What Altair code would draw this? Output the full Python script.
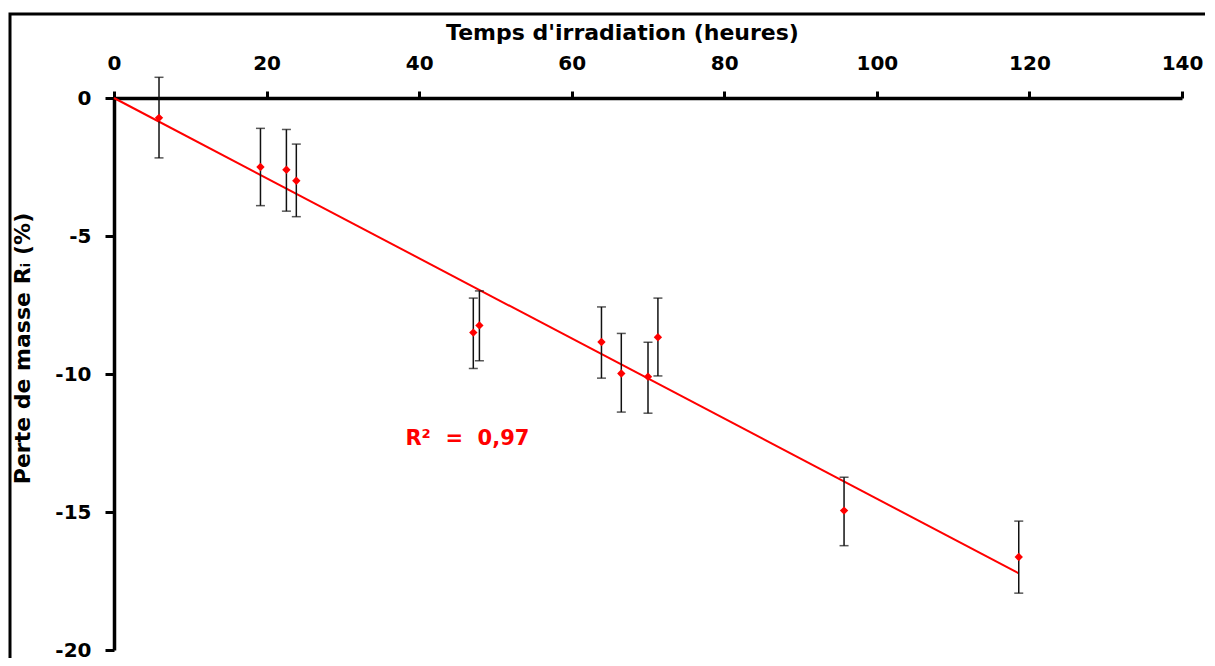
import altair as alt
import pandas as pd

# Data
temps = [5.9, 19.2, 22.6, 23.9, 47.1, 47.9, 63.9, 66.5, 70.0, 71.3, 95.7, 118.6]
perte = [-0.72, -2.50, -2.60, -3.00, -8.50, -8.24, -8.84, -9.98, -10.10, -8.67, -14.95, -16.63]
err_haut = [0.75, -1.10, -1.14, -1.67, -7.25, -6.99, -7.57, -8.53, -8.85, -7.25, -13.74, -15.33]
err_bas = [-2.17, -3.90, -4.10, -4.30, -9.80, -9.52, -10.15, -11.38, -11.42, -10.07, -16.22, -17.94]

fit_x = [0, 118.6]
fit_y = [0, -17.22]

r2_label = ["R²\u00a0\u00a0=\u00a0\u00a00,97"]
r2_x = [38.2]
r2_y = [-12.35]

x_ticks = [0, 20, 40, 60, 80, 100, 120, 140]
y_ticks = [0, -5, -10, -15, -20]

FONT = "DejaVu Sans"

df = pd.DataFrame({"t": temps, "p": perte, "hi": err_haut, "lo": err_bas})
df_fit = pd.DataFrame({"t": fit_x, "p": fit_y})
df_txt = pd.DataFrame({"t": r2_x, "p": r2_y, "label": r2_label})

xscale = alt.Scale(domain=[0, 140], nice=False, zero=False)
yscale = alt.Scale(domain=[-20, 0], nice=False, zero=False)

xaxis = alt.Axis(
    orient="top", values=x_ticks, format="d", grid=False, labelFlush=False,
    title="Temps d'irradiation (heures)",
    titleX=508, titleY=-59, titleAlign="center", titleBaseline="alphabetic",
    tickSize=7, labelPadding=18,
)
yaxis = alt.Axis(
    orient="left", values=y_ticks, grid=False, labelFlush=False,
    labelExpr="datum.value < 0 ? '-' + (-datum.value) : '0'",
    title="Perte de masse Rᵢ (%)",
    titleX=-85, titleY=250, titleAlign="center", titleAngle=-90, titleBaseline="alphabetic",
    tickSize=9, labelPadding=14,
)

frame = alt.Chart(pd.DataFrame({"a": [0]})).mark_rect(
    fill=None, stroke="black", strokeWidth=3
).encode(
    x=alt.value(-104), x2=alt.value(2000), y=alt.value(-84), y2=alt.value(2000)
)

fit = alt.Chart(df_fit).mark_line(color="#ff0000", strokeWidth=2).encode(
    x=alt.X("t:Q", scale=xscale, axis=xaxis),
    y=alt.Y("p:Q", scale=yscale, axis=yaxis),
)

bars = alt.Chart(df).mark_rule(color="#111111", strokeWidth=1.5).encode(
    x=alt.X("t:Q", scale=xscale),
    y=alt.Y("hi:Q", scale=yscale),
    y2="lo:Q",
)

caps_hi = alt.Chart(df).mark_tick(color="#111111", thickness=1.5, size=9, orient="horizontal").encode(
    x=alt.X("t:Q", scale=xscale),
    y=alt.Y("hi:Q", scale=yscale),
)
caps_lo = alt.Chart(df).mark_tick(color="#111111", thickness=1.5, size=9, orient="horizontal").encode(
    x=alt.X("t:Q", scale=xscale),
    y=alt.Y("lo:Q", scale=yscale),
)

pts = alt.Chart(df).mark_point(shape="diamond", filled=True, color="#ff0000", size=70, opacity=1).encode(
    x=alt.X("t:Q", scale=xscale),
    y=alt.Y("p:Q", scale=yscale),
)

txt = alt.Chart(df_txt).mark_text(
    color="#ff0000", font=FONT, fontWeight="bold", fontSize=21, align="left", baseline="middle"
).encode(
    x=alt.X("t:Q", scale=xscale),
    y=alt.Y("p:Q", scale=yscale),
    text="label:N",
)

chart = alt.layer(frame, fit, bars, caps_hi, caps_lo, pts, txt).properties(
    width=1068, height=552,
    autosize=alt.AutoSizeParams(type="none"),
    padding={"left": 106, "top": 90, "right": 23, "bottom": 8},
    background="white",
).configure_view(stroke=None).configure_axis(
    domainColor="black", domainWidth=3.5, tickColor="black", tickWidth=3,
    labelFont=FONT, labelFontWeight="bold", labelFontSize=20, labelColor="black",
    titleFont=FONT, titleFontWeight="bold", titleFontSize=22, titleColor="black",
)

chart.save("out.html", embed_options={"renderer": "svg", "actions": False})
